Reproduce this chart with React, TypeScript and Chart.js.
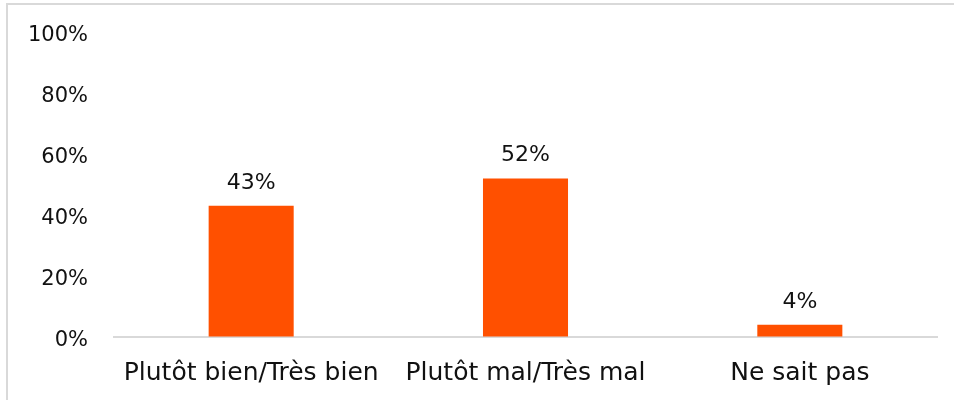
import React, { useEffect, useRef } from "react";
import { Chart, registerables } from "chart.js";

Chart.register(...registerables);

const categories = ["Plutôt bien/Très bien", "Plutôt mal/Très mal", "Ne sait pas"];
const values = [43, 52, 4];
const yTicks = [0, 20, 40, 60, 80, 100];

const FONT = "'DejaVu Sans', sans-serif";

const framePlugin = {
  id: "frame",
  beforeDraw(chart: any) {
    const ctx = chart.ctx;
    ctx.save();
    ctx.strokeStyle = "#d9d9d9";
    ctx.lineWidth = 2;
    ctx.beginPath();
    ctx.moveTo(7, chart.height);
    ctx.lineTo(7, 4);
    ctx.lineTo(chart.width, 4);
    ctx.stroke();
    ctx.restore();
  },
};

const labelPlugin = {
  id: "barLabels",
  afterDatasetsDraw(chart: any) {
    const ctx = chart.ctx;
    const meta = chart.getDatasetMeta(0);
    ctx.save();
    ctx.fillStyle = "#111";
    ctx.font = `22px ${FONT}`;
    ctx.textAlign = "center";
    ctx.textBaseline = "middle";
    meta.data.forEach((bar: any, i: number) => {
      ctx.fillText(`${values[i]}%`, bar.x, bar.y - 23);
    });
    ctx.restore();
  },
};

export default function App() {
  const ref = useRef<HTMLCanvasElement>(null);
  useEffect(() => {
    if (!ref.current) return;
    const chart = new Chart(ref.current, {
      type: "bar",
      data: {
        labels: categories,
        datasets: [
          {
            data: values,
            backgroundColor: "#FF5000",
            barPercentage: 0.31,
            categoryPercentage: 1,
          },
        ],
      },
      options: {
        animation: false,
        responsive: false,
        maintainAspectRatio: false,
        layout: { padding: { top: 32, right: 17, left: 0, bottom: 0 } },
        plugins: { legend: { display: false }, tooltip: { enabled: false } },
        scales: {
          x: {
            grid: { display: false, drawTicks: false },
            border: { display: true, color: "#d9d9d9", width: 2 },
            ticks: { color: "#111", font: { family: FONT, size: 25 }, padding: 21, maxRotation: 0 },
            afterFit: (s: any) => { s.height = 63; },
          },
          y: {
            min: 0,
            max: 100,
            afterBuildTicks: (s: any) => { s.ticks = yTicks.map((v) => ({ value: v })); },
            grid: { display: true, drawOnChartArea: false, drawTicks: true, tickLength: 26, color: "rgba(0,0,0,0)" },
            border: { display: false },
            ticks: { color: "#111", font: { family: FONT, size: 21 }, padding: 0, labelOffset: 4, callback: (v: any) => `${v}%` },
            afterFit: (s: any) => { s.width = 114; },
          },
        },
      },
      plugins: [framePlugin, labelPlugin],
    });
    return () => chart.destroy();
  }, []);
  return (
    <div style={{ position: "fixed", left: 0, top: 0, width: 954, height: 400, background: "#fff" }}>
      <canvas ref={ref} width={954} height={400} style={{ width: 954, height: 400 }} />
    </div>
  );
}
